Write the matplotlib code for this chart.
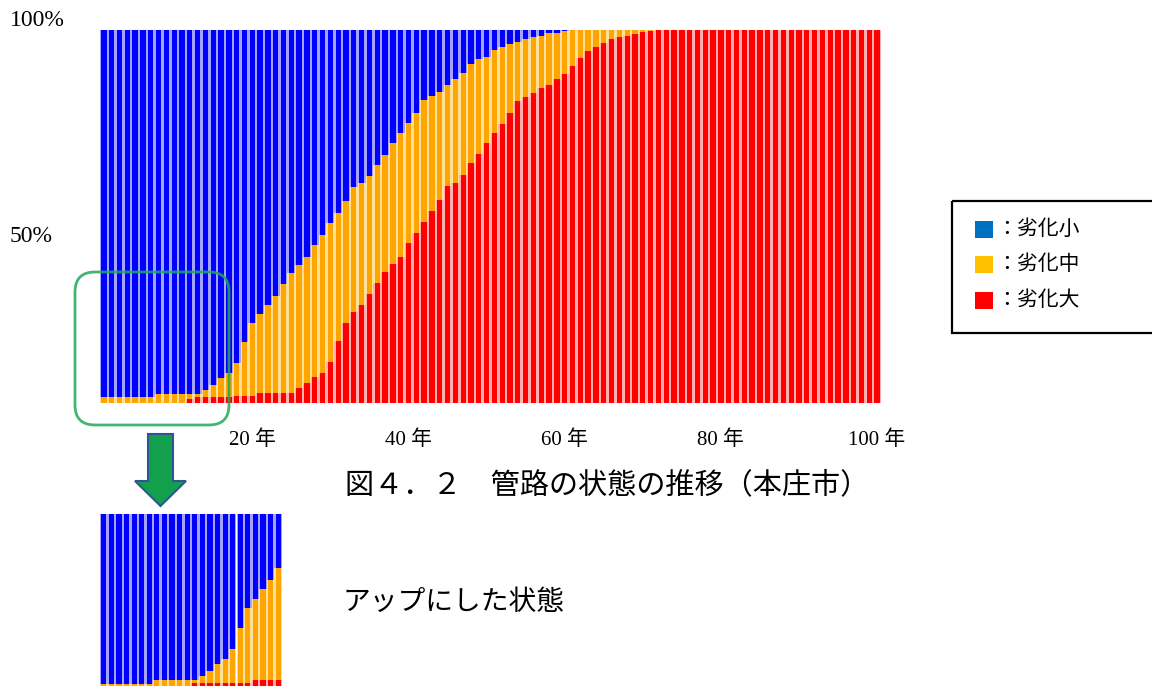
import numpy as np
import matplotlib
matplotlib.use("Agg")
import matplotlib.pyplot as plt
from matplotlib.patches import FancyBboxPatch, Rectangle, Polygon

plt.rcParams['font.family'] = ['Liberation Serif', 'Noto Sans CJK JP', 'DejaVu Sans']

# pipe condition share (%) per year
years = np.arange(1, 101)
small = [98.5, 98.5, 98.5, 98.5, 98.5, 98.5, 98.5, 97.5, 97.5, 97.5,
         97.5, 97.5, 97.5, 96.4, 95.1, 93.3, 92.0, 89.3, 83.7, 78.6,
         76.1, 73.7, 71.2, 68.1, 65.1, 63.0, 60.9, 57.6, 55.0, 51.8,
         49.0, 45.8, 42.0, 40.9, 39.1, 36.2, 33.5, 30.4, 27.7, 25.0,
         22.2, 18.8, 17.7, 16.5, 14.7, 13.2, 11.6, 9.1, 7.9, 7.3,
         5.4, 4.5, 3.8, 3.1, 2.5, 1.8, 1.5, 0.9, 0.7, 0.3,
         0, 0, 0, 0, 0, 0, 0, 0, 0, 0,
         0, 0, 0, 0, 0, 0, 0, 0, 0, 0,
         0, 0, 0, 0, 0, 0, 0, 0, 0, 0,
         0, 0, 0, 0, 0, 0, 0, 0, 0, 0]
mid = [1.5, 1.5, 1.5, 1.5, 1.5, 1.5, 1.5, 2.5, 2.5, 2.5,
       2.5, 1.5, 0.8, 1.9, 3.2, 5.0, 6.3, 8.8, 14.4, 19.5,
       21.3, 23.7, 26.2, 29.3, 32.1, 33.1, 33.8, 35.3, 36.9, 37.1,
       34.3, 32.8, 33.5, 32.8, 31.8, 31.5, 31.3, 32.3, 33.2, 32.2,
       32.3, 32.6, 30.7, 29.1, 27.1, 27.7, 27.2, 26.6, 25.3, 23.1,
       22.3, 20.7, 18.4, 15.9, 15.5, 15.0, 14.1, 13.8, 12.5, 11.5,
       9.6, 7.6, 5.5, 4.5, 3.4, 2.5, 2.0, 1.6, 1.1, 0.5,
       0.2, 0, 0, 0, 0, 0, 0, 0, 0, 0,
       0, 0, 0, 0, 0, 0, 0, 0, 0, 0,
       0, 0, 0, 0, 0, 0, 0, 0, 0, 0]
large = [0, 0, 0, 0, 0, 0, 0, 0, 0, 0,
         0, 1.0, 1.7, 1.7, 1.7, 1.7, 1.7, 1.9, 1.9, 1.9,
         2.6, 2.6, 2.6, 2.6, 2.8, 3.9, 5.3, 7.1, 8.1, 11.1,
         16.7, 21.4, 24.5, 26.3, 29.1, 32.3, 35.2, 37.3, 39.1, 42.8,
         45.5, 48.6, 51.6, 54.4, 58.2, 59.1, 61.2, 64.3, 66.8, 69.6,
         72.3, 74.8, 77.8, 81.0, 82.0, 83.2, 84.4, 85.3, 86.8, 88.2,
         90.4, 92.4, 94.5, 95.5, 96.6, 97.5, 98.0, 98.4, 98.9, 99.5,
         99.8, 100, 100, 100, 100, 100, 100, 100, 100, 100,
         100, 100, 100, 100, 100, 100, 100, 100, 100, 100,
         100, 100, 100, 100, 100, 100, 100, 100, 100, 100]

x_tick_years = [20, 40, 60, 80, 100]
x_tick_labels = ['20 年', '40 年', '60 年', '80 年', '100 年']
y_labels = ['100%', '50%']
legend_labels = ['：劣化小', '：劣化中', '：劣化大']
legend_colors = ['#0070C0', '#FFC000', '#FF0000']
title = '図４．２　管路の状態の推移（本庄市）'
note = 'アップにした状態'

# bar colour, tint seen in the gaps between bars
layers = [(large, '#FF0000', '#FFB0B0'),
          (mid, '#FFA500', '#FFE09A'),
          (small, '#0000FF', '#A4A4FF')]


def draw_stack(ax, n):
    x = years[:n]
    bottom = np.zeros(n)
    for vals, color, tint in layers:
        v = np.array(vals[:n], dtype=float)
        ax.bar(x, v, bottom=bottom, width=1.0, color=tint, linewidth=0)
        ax.bar(x, v, bottom=bottom, width=0.68, color=color, linewidth=0)
        bottom += v


W, H = 1152, 686
fig = plt.figure(figsize=(W / 100, H / 100), dpi=100)

# main chart
ax = fig.add_axes([100 / W, (H - 403) / H, 781 / W, 373 / H])
draw_stack(ax, 100)
ax.set_xlim(0.5, 100.5)
ax.set_ylim(0, 100)
for s in ax.spines.values():
    s.set_visible(False)
ax.set_yticks([])
ax.set_xticks(x_tick_years)
ax.set_xticklabels(x_tick_labels, fontsize=15)
ax.tick_params(axis='x', length=0, pad=20)

# zoomed-in view of the first years
inset = fig.add_axes([100 / W, (H - 690) / H, 182 / W, 176 / H])
draw_stack(inset, 24)
inset.set_xlim(0.5, 24.5)
inset.set_ylim(0, 46)
inset.axis('off')

# overlay in pixel coordinates for annotations
ov = fig.add_axes([0, 0, 1, 1], zorder=10)
ov.set_xlim(0, W)
ov.set_ylim(H, 0)
ov.axis('off')

ov.text(10, 20, y_labels[0], fontsize=17, ha='left', va='center')
ov.text(10, 236, y_labels[1], fontsize=17, ha='left', va='center')

ov.add_patch(FancyBboxPatch((75, 272), 154, 153,
                            boxstyle='round,pad=0,rounding_size=20',
                            fill=False, edgecolor='#22A85A', linewidth=2, alpha=0.85))

arrow = [(148, 434), (173, 434), (173, 481), (186, 481), (160.5, 506),
         (135, 481), (148, 481)]
ov.add_patch(Polygon(arrow, closed=True, facecolor='#12A04C',
                     edgecolor='#2F5597', linewidth=1.5))

ov.text(345, 485, title, fontsize=21, ha='left', va='center')
ov.text(343, 603, note, fontsize=20, ha='left', va='center')

# legend box
ov.add_patch(Rectangle((952, 201), 230, 132, fill=False,
                       edgecolor='black', linewidth=1.6))
for i, (lab, col) in enumerate(zip(legend_labels, legend_colors)):
    yc = 229 + 35.5 * i
    ov.add_patch(Rectangle((975, yc - 8.5), 18, 17, facecolor=col, edgecolor='none'))
    ov.text(996, yc, lab, fontsize=15, ha='left', va='center',
            family=['Noto Sans CJK JP', 'DejaVu Sans'])

fig.savefig('out.png', dpi=100)
